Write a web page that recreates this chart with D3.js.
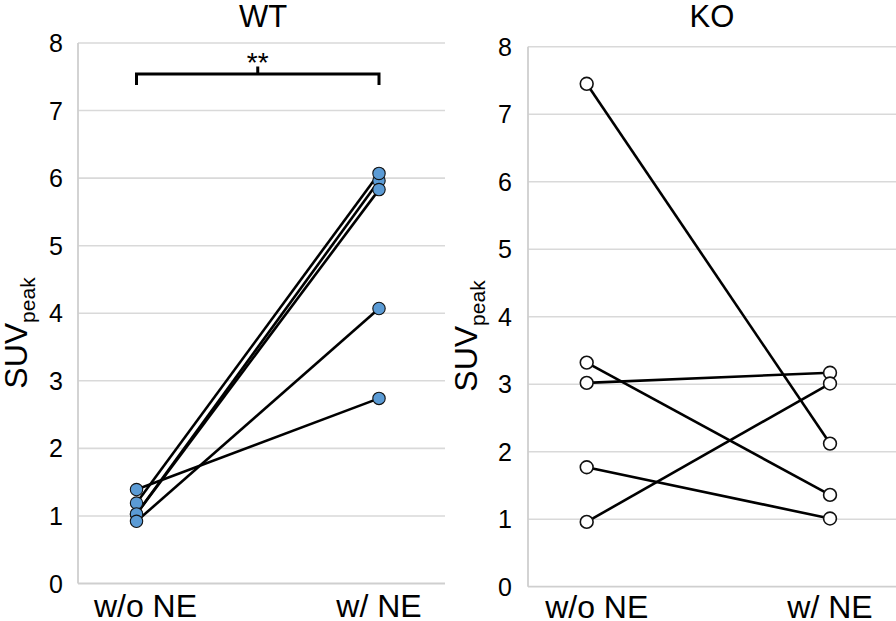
<!DOCTYPE html>
<html>
<head>
<meta charset="utf-8">
<script src="https://cdn.jsdelivr.net/npm/d3@7"></script>
<style>
  html, body { margin: 0; padding: 0; background: #fff; }
  svg { display: block; font-family: "Liberation Sans", Arial, sans-serif; }
</style>
</head>
<body>
<svg id="chart" width="896" height="621"></svg>
<script>
// ---- data ----
const categories = ["w/o NE", "w/ NE"];
const yTicks = [0, 1, 2, 3, 4, 5, 6, 7, 8];
const wtBefore = [1.39, 1.03, 1.19, 1.03, 0.92];
const wtAfter  = [2.74, 5.96, 6.07, 5.83, 4.07];
const koBefore = [7.45, 3.32, 3.02, 1.77, 0.96];
const koAfter  = [2.12, 1.36, 3.17, 1.01, 3.01];
const panelTitles = ["WT", "KO"];
const significance = "**";

const svg = d3.select("#chart");

function drawPanel(cfg) {
  const g = svg.append("g");
  const x = d3.scalePoint().domain(categories).range(cfg.xRange);
  const y = d3.scaleLinear().domain([0, 8]).range(cfg.yRange);

  // gridlines
  g.append("g").selectAll("line").data(yTicks.filter(d => d > 0)).join("line")
    .attr("x1", cfg.axisX).attr("x2", cfg.gridEnd)
    .attr("y1", d => y(d)).attr("y2", d => y(d))
    .attr("stroke", "#d9d9d9").attr("stroke-width", 1.6);
  // baseline & y axis line
  g.append("line").attr("x1", cfg.axisX).attr("x2", cfg.gridEnd)
    .attr("y1", y(0)).attr("y2", y(0)).attr("stroke", "#cfcfcf").attr("stroke-width", 1.8);
  g.append("line").attr("x1", cfg.axisX).attr("x2", cfg.axisX)
    .attr("y1", y(8)).attr("y2", y(0)).attr("stroke", "#cfcfcf").attr("stroke-width", 1.8);

  // tick labels
  g.append("g").selectAll("text").data(yTicks).join("text")
    .attr("x", cfg.tickX).attr("y", d => y(d))
    .attr("dy", "0.36em").attr("text-anchor", "end")
    .attr("font-size", 25).attr("fill", "#000")
    .text(d => d);

  // category labels
  g.append("g").selectAll("text").data(categories).join("text")
    .attr("x", (d, i) => x(d) + cfg.catDx[i]).attr("y", cfg.catY)
    .attr("text-anchor", "middle").attr("font-size", 32).attr("fill", "#000")
    .text(d => d);

  // title
  g.append("text").attr("x", cfg.titleX).attr("y", 27)
    .attr("text-anchor", "middle").attr("font-size", 31).attr("fill", "#000")
    .text(cfg.title);

  // y label
  const yl = g.append("text")
    .attr("transform", `translate(${cfg.yLabelX},${cfg.yLabelY}) rotate(-90)`)
    .attr("text-anchor", "middle").attr("font-size", 32).attr("fill", "#000");
  yl.append("tspan").text("SUV");
  yl.append("tspan").attr("font-size", 21).attr("dy", 8).text("peak");

  // pair lines
  const pairs = cfg.before.map((b, i) => [b, cfg.after[i]]);
  g.append("g").selectAll("line").data(pairs).join("line")
    .attr("x1", x(categories[0])).attr("x2", x(categories[1]))
    .attr("y1", d => y(d[0])).attr("y2", d => y(d[1]))
    .attr("stroke", "#000").attr("stroke-width", 2.6);

  // points
  const pts = [];
  pairs.forEach(p => { pts.push([categories[0], p[0]]); pts.push([categories[1], p[1]]); });
  g.append("g").selectAll("circle").data(pts).join("circle")
    .attr("cx", d => x(d[0])).attr("cy", d => y(d[1]))
    .attr("r", cfg.r).attr("fill", cfg.fill)
    .attr("stroke", "#111").attr("stroke-width", cfg.sw);

  return { g, x, y };
}

const wt = drawPanel({
  xRange: [136.5, 379], yRange: [583.5, 43], axisX: 78, gridEnd: 445,
  tickX: 63, catDx: [9, 0], catY: 617, titleX: 263, title: panelTitles[0],
  yLabelX: 27, yLabelY: 333,
  before: wtBefore, after: wtAfter, fill: "#5b9bd5", r: 6.2, sw: 1.1
});

drawPanel({
  xRange: [586.7, 830], yRange: [586.7, 46.7], axisX: 528, gridEnd: 896,
  tickX: 512, catDx: [10, 0], catY: 618, titleX: 712, title: panelTitles[1],
  yLabelX: 477, yLabelY: 336,
  before: koBefore, after: koAfter, fill: "#fff", r: 6.4, sw: 1.6
});

// significance bracket on WT
const bx0 = wt.x(categories[0]), bx1 = wt.x(categories[1]);
const bMid = (bx0 + bx1) / 2;
wt.g.append("path")
  .attr("d", `M${bx0},85 V74 H${bx1} V85 M${bMid},74 V66.5`)
  .attr("fill", "none").attr("stroke", "#000").attr("stroke-width", 3);
wt.g.append("text").attr("x", bMid).attr("y", 72)
  .attr("text-anchor", "middle").attr("font-size", 28).attr("fill", "#000")
  .text(significance);
</script>
</body>
</html>
